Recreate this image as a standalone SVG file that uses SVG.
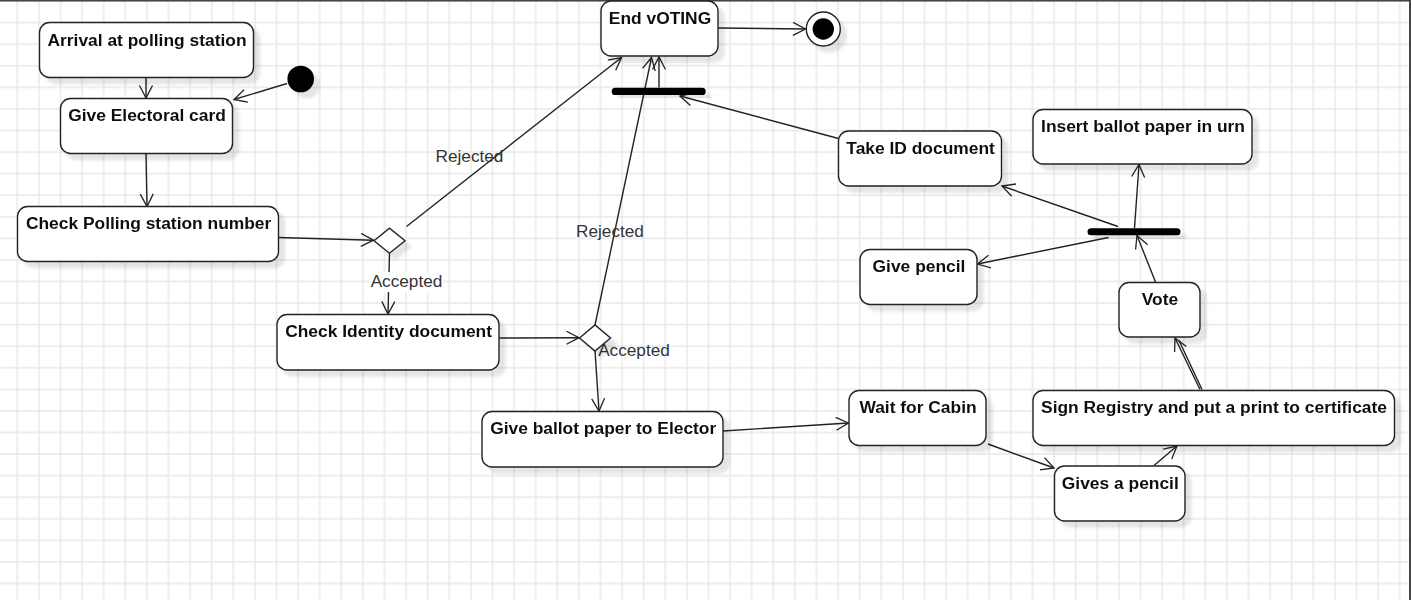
<svg xmlns="http://www.w3.org/2000/svg" width="1411" height="600" viewBox="0 0 1411 600">
  <defs>
    <pattern id="grid" patternUnits="userSpaceOnUse" x="-15.1" y="-9.7" width="21.6" height="21.57">
      <path d="M10.8 0 V21.57 M0 10.8 H21.6" stroke="#e8e8e8" stroke-width="1.4" fill="none"/>
    </pattern>
    <filter id="sh" x="-20%" y="-20%" width="150%" height="160%">
      <feDropShadow dx="6" dy="6" stdDeviation="1.5" flood-color="#000" flood-opacity="0.1"/>
    </filter>
    <marker id="arr" viewBox="0 0 15 15" refX="13" refY="7" markerWidth="15" markerHeight="15" markerUnits="userSpaceOnUse" orient="auto">
      <path d="M0.5,0.5 L13,7 L0.5,13.5" fill="none" stroke="#222" stroke-width="1.3"/>
    </marker>
    <style>
      .node rect { fill: #fff; stroke: #222; stroke-width: 1.4; }
      .node rect.bar { fill: #000; stroke: none; }
      .node { filter: url(#sh); }
      .lbl { font-family: "Liberation Sans", Arial, sans-serif; font-weight: bold; font-size: 17.4px; fill: #111; text-anchor: middle; }
      .elbl { font-family: "Liberation Sans", Arial, sans-serif; font-size: 17.2px; fill: #333; text-anchor: middle; }
      .edge { stroke: #222; stroke-width: 1.4; fill: none; marker-end: url(#arr); }
      .plain { stroke: #222; stroke-width: 1.4; fill: none; }
    </style>
  </defs>

  <rect x="0" y="0" width="1411" height="600" fill="#fff"/>
  <rect x="0" y="0" width="1411" height="600" fill="url(#grid)"/>
  <path d="M0 0.5 H1410 M1410 0 V600" stroke="#444" stroke-width="2" fill="none"/>

  <g id="connectors">
    <line class="edge" x1="146" y1="77.7" x2="146" y2="98"/>
    <line class="edge" x1="287" y1="83.5" x2="234" y2="99.5"/>
    <line class="edge" x1="146" y1="153.5" x2="147" y2="206.5"/>
    <line class="edge" x1="278.5" y1="237.5" x2="373.5" y2="240.2"/>
    <line class="edge" x1="406.5" y1="226.5" x2="621.5" y2="57.5"/>
    <line class="edge" x1="389.5" y1="253.2" x2="388" y2="314"/>
    <line class="edge" x1="499" y1="338" x2="579" y2="337.7"/>
    <line class="edge" x1="595" y1="325" x2="651.5" y2="57.5"/>
    <line class="edge" x1="595" y1="351" x2="599" y2="411"/>
    <line class="edge" x1="723" y1="431" x2="848.5" y2="423"/>
    <line class="edge" x1="988" y1="444" x2="1054" y2="468"/>
    <line class="edge" x1="1154" y1="465.5" x2="1177" y2="446"/>
    <line class="plain" x1="1202" y1="389.5" x2="1179" y2="340.5"/>
    <line class="edge" x1="1200" y1="389.5" x2="1175" y2="338"/>
    <line class="edge" x1="1155.5" y1="282" x2="1137" y2="235.5"/>
    <line class="edge" x1="1134.5" y1="228" x2="1139" y2="164.5"/>
    <line class="edge" x1="1118" y1="226.5" x2="1002" y2="186"/>
    <line class="edge" x1="1108.5" y1="237.5" x2="977.5" y2="264"/>
    <line class="edge" x1="838.5" y1="138.5" x2="680" y2="96"/>
    <line class="edge" x1="659" y1="87.5" x2="659" y2="57"/>
    <line class="edge" x1="718" y1="28" x2="805.5" y2="29"/>
    <rect x="370" y="272" width="73" height="20" fill="#fff"/>
    <text class="elbl" x="406.5" y="287.3">Accepted</text>
    <text class="elbl" x="469.5" y="162.3">Rejected</text>
    <text class="elbl" x="610" y="236.7">Rejected</text>
    <text class="elbl" x="634" y="356">Accepted</text>
  </g>

  <g id="start" class="node"><circle cx="300.7" cy="79" r="13.3" fill="#000"/></g>
  <g id="end" class="node">
    <circle cx="823.3" cy="29" r="17" fill="#fff" stroke="#222" stroke-width="1.4"/>
    <circle cx="823.3" cy="29" r="10.7" fill="#000"/>
  </g>
  <g id="arrival" class="node"><rect x="39.5" y="22.5" width="214" height="55" rx="10"/><text class="lbl" x="147" y="45.5">Arrival at polling station</text></g>
  <g id="give-card" class="node"><rect x="60.5" y="98.5" width="172" height="55" rx="10"/><text class="lbl" x="147" y="121">Give Electoral card</text></g>
  <g id="check-polling" class="node"><rect x="17.5" y="206.5" width="261" height="55" rx="10"/><text class="lbl" x="148.6" y="229.3">Check Polling station number</text></g>
  <g id="decision1" class="node"><polygon points="374,240.7 389.5,228.2 405,240.7 389.5,253.2" fill="#fff" stroke="#222" stroke-width="1.4"/></g>
  <g id="check-id" class="node"><rect x="277" y="314.5" width="222" height="55.5" rx="10"/><text class="lbl" x="388.6" y="337">Check Identity document</text></g>
  <g id="decision2" class="node"><polygon points="579.5,338 595,325 610.5,338 595,351" fill="#fff" stroke="#222" stroke-width="1.4"/></g>
  <g id="give-ballot" class="node"><rect x="482" y="411.5" width="241" height="55.5" rx="10"/><text class="lbl" x="603.2" y="434">Give ballot paper to Elector</text></g>
  <g id="end-voting" class="node"><rect x="601" y="1" width="117" height="55" rx="10"/><text class="lbl" x="660" y="23.5">End vOTING</text></g>
  <g id="bar1" class="node"><rect class="bar" x="611.7" y="87.7" width="94" height="7.3" rx="3.6"/></g>
  <g id="take-id" class="node"><rect x="838.5" y="131" width="163" height="55" rx="10"/><text class="lbl" x="920.6" y="153.5">Take ID document</text></g>
  <g id="insert-ballot" class="node"><rect x="1033" y="109.5" width="219" height="54.5" rx="10"/><text class="lbl" x="1143" y="132">Insert ballot paper in urn</text></g>
  <g id="bar2" class="node"><rect class="bar" x="1087.5" y="228.3" width="93" height="7" rx="3.5"/></g>
  <g id="give-pencil" class="node"><rect x="860" y="249.5" width="117" height="55" rx="10"/><text class="lbl" x="919" y="272">Give pencil</text></g>
  <g id="vote" class="node"><rect x="1119" y="282.5" width="81" height="54.5" rx="10"/><text class="lbl" x="1160" y="305">Vote</text></g>
  <g id="wait-cabin" class="node"><rect x="849" y="390.5" width="137" height="55" rx="10"/><text class="lbl" x="918" y="413">Wait for Cabin</text></g>
  <g id="sign-registry" class="node"><rect x="1033" y="390.5" width="361.5" height="55" rx="10"/><text class="lbl" x="1214" y="413">Sign Registry and put a print to certificate</text></g>
  <g id="gives-pencil" class="node"><rect x="1054.5" y="466" width="130.5" height="55" rx="10"/><text class="lbl" x="1120.3" y="488.5">Gives a pencil</text></g>
</svg>
